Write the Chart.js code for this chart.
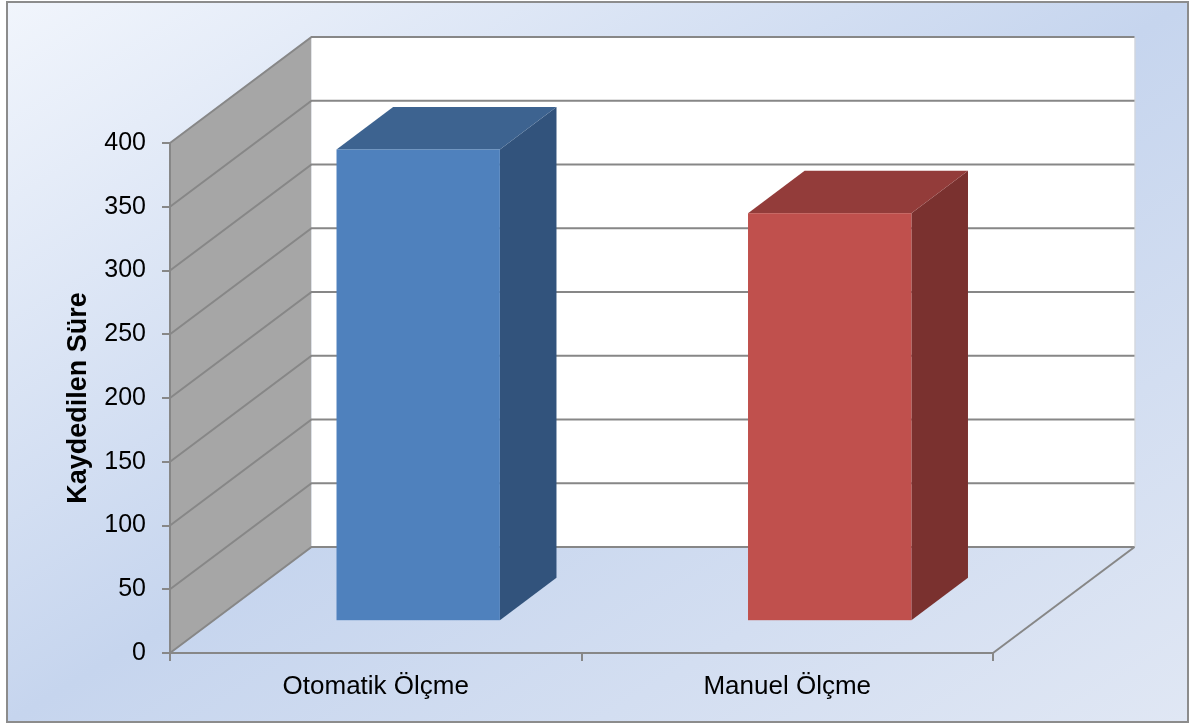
<!DOCTYPE html>
<html>
<head>
<meta charset="utf-8">
<script src="https://cdn.jsdelivr.net/npm/chart.js@4.4.1/dist/chart.umd.min.js"></script>
<style>
  html, body { margin: 0; padding: 0; background: #ffffff; }
  canvas { display: block; }
</style>
</head>
<body>
<canvas id="chart" width="1193" height="726"></canvas>
<script>
// ---- data ----
const categories = ['Otomatik Ölçme', 'Manuel Ölçme'];
const durations = [370, 320];
const yTickValues = [0, 50, 100, 150, 200, 250, 300, 350, 400];
const yTitle = 'Kaydedilen Süre';

// ---- styling ----
const frontColors = ['#4f81bd', '#c0504d'];
const topColors = ['#3d6390', '#933c3a'];
const sideColors = ['#32537c', '#7a312f'];
const LINE = '#878787';
const FONT = "'Liberation Sans', Arial, sans-serif";

// depth of the 3-D box (offset of the back wall) and where bars sit inside it
const DEPTH = { dx: 141.5, dy: -106 };
const BAR_FRONT = 0.3;
const BAR_BACK = 0.7;

function poly(ctx, pts, fill) {
  ctx.beginPath();
  ctx.moveTo(pts[0][0], pts[0][1]);
  for (let i = 1; i < pts.length; i++) ctx.lineTo(pts[i][0], pts[i][1]);
  ctx.closePath();
  ctx.fillStyle = fill;
  ctx.fill();
}

const scene3d = {
  id: 'scene3d',
  beforeDraw(chart) {
    const { ctx, chartArea: a, scales } = chart;
    const y = scales.y;
    const dx = DEPTH.dx, dy = DEPTH.dy;
    ctx.save();

    // frame with diagonal gradient
    const x0 = 7, y0 = 2, x1 = 1188, y1 = 722;
    const w = x1 - x0, h = y1 - y0, cx = (x0 + x1) / 2, cy = (y0 + y1) / 2;
    const s = w * h / (w * w + h * h);
    const g = ctx.createLinearGradient(cx - h * s, cy - w * s, cx + h * s, cy + w * s);
    g.addColorStop(0, '#f1f5fc');
    g.addColorStop(0.5, '#c6d5ee');
    g.addColorStop(1, '#e0e7f4');
    ctx.fillStyle = g;
    ctx.fillRect(x0, y0, w, h);
    ctx.strokeStyle = '#8c8c8c';
    ctx.lineWidth = 2;
    ctx.strokeRect(x0, y0, w, h);

    // side wall
    poly(ctx, [[a.left, a.top], [a.left + dx, a.top + dy], [a.left + dx, a.bottom + dy], [a.left, a.bottom]], '#a6a6a6');
    // back wall
    ctx.fillStyle = '#ffffff';
    ctx.fillRect(a.left + dx, a.top + dy, a.right - a.left, a.bottom - a.top);
    ctx.strokeStyle = '#d6d6d6';
    ctx.lineWidth = 1;
    ctx.beginPath();
    ctx.moveTo(a.right + dx + 0.5, a.top + dy);
    ctx.lineTo(a.right + dx + 0.5, a.bottom + dy);
    ctx.stroke();

    // gridlines running along the side wall and across the back wall
    ctx.strokeStyle = LINE;
    ctx.lineWidth = 2;
    y.ticks.forEach(t => {
      const py = y.getPixelForValue(t.value);
      ctx.beginPath();
      ctx.moveTo(a.left, py);
      ctx.lineTo(a.left + dx, py + dy);
      ctx.lineTo(a.right + dx, py + dy);
      ctx.stroke();
    });
    // right edge of the floor
    ctx.beginPath();
    ctx.moveTo(a.right, a.bottom);
    ctx.lineTo(a.right + dx, a.bottom + dy);
    ctx.stroke();
    ctx.restore();
  },
  beforeDatasetDraw(chart, args) {
    const ctx = chart.ctx;
    const ds = chart.data.datasets[args.index];
    ctx.save();
    args.meta.data.forEach((bar, i) => {
      const { x, y, base, width } = bar.getProps(['x', 'y', 'base', 'width'], true);
      const l = x - width / 2, r = x + width / 2;
      const fx = DEPTH.dx * BAR_FRONT, fy = DEPTH.dy * BAR_FRONT;
      const bx = DEPTH.dx * BAR_BACK, by = DEPTH.dy * BAR_BACK;
      poly(ctx, [[r + fx, y + fy], [r + bx, y + by], [r + bx, base + by], [r + fx, base + fy]], ds.sideColor[i]);
      poly(ctx, [[l + fx, y + fy], [r + fx, y + fy], [r + bx, y + by], [l + bx, y + by]], ds.topColor[i]);
      ctx.fillStyle = ds.backgroundColor[i];
      ctx.fillRect(l + fx, y + fy, width, base - y);
    });
    ctx.restore();
    return false;
  }
};

new Chart(document.getElementById('chart'), {
  type: 'bar',
  data: {
    labels: categories,
    datasets: [{
      data: durations,
      backgroundColor: frontColors,
      topColor: topColors,
      sideColor: sideColors,
      barPercentage: 0.397,
      categoryPercentage: 1
    }]
  },
  options: {
    responsive: false,
    animation: false,
    layout: { padding: { top: 143, right: 200, bottom: 0, left: 0 } },
    plugins: {
      legend: { display: false },
      tooltip: { enabled: false }
    },
    scales: {
      x: {
        offset: true,
        afterFit(scale) { scale.height = 73; },
        grid: { offset: true, drawOnChartArea: false, drawTicks: true, tickLength: 8, color: LINE, lineWidth: 2 },
        border: { display: true, color: LINE, width: 2 },
        ticks: { color: '#000000', font: { family: FONT, size: 26 }, padding: 10, maxRotation: 0 }
      },
      y: {
        min: 0,
        max: 400,
        afterBuildTicks(scale) { scale.ticks = yTickValues.map(v => ({ value: v })); },
        afterFit(scale) { scale.width = 170; },
        grid: { drawOnChartArea: false, drawTicks: true, tickLength: 8, color: LINE, lineWidth: 2 },
        border: { display: true, color: LINE, width: 2 },
        ticks: { color: '#000000', font: { family: FONT, size: 25 }, padding: 16 },
        title: {
          display: true,
          text: yTitle,
          color: '#000000',
          font: { family: FONT, size: 27, weight: 'bold' },
          padding: { top: 62, bottom: 0 }
        }
      }
    }
  },
  plugins: [scene3d]
});
</script>
</body>
</html>
